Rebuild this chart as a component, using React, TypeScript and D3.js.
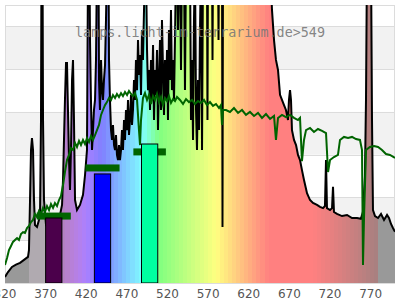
import React from "react";
import * as d3 from "d3";

const W = 400, H = 300;
const M = { left: 5, right: 5, top: 5, bottom: 17 };

// x axis ticks (nm) and horizontal grid values
const xTicks = [320, 370, 420, 470, 520, 570, 620, 670, 720, 770];
const yGrid = [20, 40, 60, 80, 100, 120];

// measured lamp spectrum [wavelength nm, relative value] (values > 130 are off-scale)
const spectrum: [number, number][] = [[320,2.8],[323.7,5.1],[328.6,7.5],[333.5,8.6],[338.5,9.4],[343.4,10.8],[348.3,12.2],[349.5,15.4],[350.8,38.8],[352,62.2],[353.2,67.8],[354.5,62.2],[355.7,38.8],[356.9,27.1],[359.4,26.2],[361.8,29.5],[363.1,31.8],[364.3,76.2],[364.9,150],[366.2,150],[366.8,76.2],[368,38.8],[370.5,27.1],[375.4,24.8],[381.5,27.1],[387.7,31.8],[390.2,36.5],[391.4,48.2],[392.6,66.9],[393.8,85.6],[395.1,102.9],[396.3,102.9],[397.5,80.9],[398.8,57.5],[400,43.5],[401.2,62.2],[402.5,94.9],[403.7,104.3],[404.9,76.2],[406.2,38.8],[408.6,34.1],[412.3,36.5],[416,41.2],[418.5,50.5],[420.9,62.2],[422.2,150],[424,150],[424.6,113.6],[425.8,85.6],[427.1,62.2],[428.3,71.5],[429.5,80.9],[430.8,85.6],[432,104.3],[433.2,150],[435.1,150],[435.7,94.9],[436.9,80.9],[438.2,104.3],[439.4,90.2],[440.6,85.6],[441.8,94.9],[443.1,101.9],[444.3,123],[445.5,150],[447.4,150],[448,104.3],[449.2,85.6],[450.5,71.5],[451.7,66.9],[452.9,73.9],[454.2,64.5],[455.4,62.2],[456.6,69.2],[457.8,59.9],[459.1,57.5],[460.3,64.5],[461.5,57.5],[462.8,62.2],[464,71.5],[465.2,62.2],[466.5,76.2],[467.7,66.9],[468.9,80.9],[470.2,71.5],[471.4,85.6],[472.6,69.2],[473.8,76.2],[475.1,87.9],[476.3,73.9],[477.5,80.9],[478.8,94.9],[480,85.6],[481.2,104.3],[482.5,90.2],[483.7,113.6],[484.9,97.3],[486.2,106.6],[487.4,87.9],[488.6,118.3],[489.8,104.3],[491.1,127.7],[492.3,150],[493.5,150],[494.8,109],[496,90.2],[497.2,99.6],[498.5,80.9],[499.7,104.3],[500.9,85.6],[502.2,111.3],[503.4,76.2],[504.6,99.6],[505.8,87.9],[507.1,109],[508.3,71.5],[509.5,94.9],[510.8,113.6],[512,80.9],[513.2,123],[514.5,99.6],[515.7,78.6],[516.9,104.3],[518.2,85.6],[519.4,109],[520.6,76.2],[521.8,118.3],[523.1,94.9],[524.3,127.7],[525.5,90.2],[526.8,104.3],[528,85.6],[529.2,113.6],[530.5,150],[531.7,150],[532.9,118.3],[534.2,150],[535.4,150],[536.6,99.6],[537.8,150],[540.3,150],[541.5,90.2],[542.8,150],[547.7,150],[548.9,76.2],[550.2,104.3],[551.4,66.9],[552.6,123],[553.8,150],[555.1,80.9],[556.3,62.2],[557.5,94.9],[558.8,71.5],[560,118.3],[561.2,150],[562.5,62.2],[563.7,150],[568.6,150],[569.2,76.2],[569.8,150],[574.8,150],[575.4,104.3],[576,150],[582.2,150],[582.8,113.6],[583.4,150],[587.1,150],[587.7,26.2],[588.3,150],[646.2,150],[648.6,127.7],[651.1,113.6],[653.5,104.3],[656,99.6],[658.5,88],[660.9,85.6],[663.4,83.2],[665.8,80.9],[668.3,76.2],[669.5,85.6],[670.8,90.2],[672,85.6],[673.2,71.5],[675.7,66.9],[678.2,64.5],[680.6,59.9],[683.1,57.5],[685.5,52.8],[688,48.2],[691.7,42],[695.4,38.8],[699.1,37.4],[704,36.5],[707.7,35.6],[711.4,35],[713.8,36],[715.1,57.5],[716.3,35],[720,34.1],[722.5,35],[723.7,45],[724.9,33.2],[728.6,32.3],[734.8,31.3],[741,31.8],[747.1,30.4],[753.3,30.4],[758,30],[760.5,33.2],[763,50],[764.3,85.6],[765.5,150],[770.5,150],[771.7,76.2],[772.9,34.1],[775.4,31.3],[779.1,30.4],[782.8,32.3],[786.5,29.5],[790.2,31.8],[792.6,30.4],[795.1,27.6],[797.5,25.7],[800,24]];

// reference (green) spectrum [wavelength nm, relative value]
const reference: [number, number][] = [[320,8.4],[322.5,11.7],[324.9,15.4],[327.4,17.3],[329.8,19.2],[332.3,20.1],[334.8,21],[337.2,20.1],[339.7,22.9],[342.2,23.8],[344.6,23.4],[347.1,25.7],[349.5,26.7],[352,28.5],[354.5,29.5],[356.9,32.3],[359.4,30.9],[361.8,33.7],[364.3,32.3],[366.8,35.1],[369.2,33.2],[371.7,36],[374.2,34.1],[376.6,36.9],[379.1,35.1],[381.5,37.4],[384,36],[386.5,38.8],[388.9,40.7],[391.4,45.8],[393.8,51.9],[396.3,57.5],[398.8,59.9],[401.2,63.1],[403.7,62.2],[406.2,65.5],[408.6,63.6],[411.1,66.4],[413.5,64.5],[416,66.9],[418.5,65],[420.9,67.8],[423.4,65.9],[425.8,68.7],[428.3,66.9],[430.8,69.2],[433.2,71.5],[435.7,73.9],[438.2,78.6],[440.6,80.9],[443.1,83.2],[445.5,84.6],[448,86.5],[450.5,85.6],[452.9,87.9],[455.4,86.5],[457.8,88.4],[460.3,87],[462.8,88.8],[465.2,87.4],[467.7,89.3],[470.2,87.9],[472.6,89.8],[475.1,88.4],[477.5,87.4],[480,88.8],[482.5,85.6],[484.9,71.5],[486.2,64.5],[487.4,76.2],[489.8,86.5],[492.3,88.8],[494.8,85.6],[497.2,87.9],[499.7,83.7],[502.2,87.4],[504.6,85.6],[507.1,88.4],[509.5,84.6],[512,87],[514.5,83.2],[516.9,86.5],[519.4,85.1],[521.8,87.4],[524.3,84.2],[526.8,86],[529.2,85.1],[531.7,87],[535.4,85.6],[539.1,83.7],[542.8,86],[546.5,84.6],[550.2,85.6],[553.8,83.7],[557.5,85.1],[561.2,84.2],[564.9,85.6],[568.6,83.2],[572.3,84.6],[576,82.8],[579.7,83.7],[583.4,81.8],[585.8,83.2],[587.1,73.9],[588.3,80.9],[592,80.9],[596.9,80],[601.8,81.8],[606.8,79.5],[611.7,80.9],[616.6,78.6],[621.5,80],[626.5,78.1],[631.4,79.5],[636.3,77.2],[641.2,79],[646.2,76.7],[651.1,78.1],[653.5,66.9],[656,77.2],[660.9,78.6],[665.8,77.6],[670.8,78.6],[675.7,77.2],[680.6,76.2],[683.1,77.2],[685.5,57],[688,66.9],[690.5,71.5],[695.4,72.5],[700.3,70.6],[705.2,72],[710.2,71.1],[715.1,70.1],[717.6,51.9],[720,57.5],[724.9,58.9],[729.8,59.9],[732.3,66.9],[737.2,68.3],[742.2,67.8],[747.1,68.3],[752,67.3],[756.9,66.9],[759.4,62.2],[760.6,8.4],[761.8,29.5],[764.3,62.2],[769.2,63.6],[774.2,64.1],[779.1,63.6],[784,62.2],[788.9,60.3],[793.8,59.9],[800,58.5]];

// photoreceptor bars: center wavelength / value, marker values
const barNm = [380, 440, 498];
const barVal = [30.4, 51, 65];
const barColor = ["#4b004b", "#0000ff", "#00ffa0"];
const markVal = [31.3, 53.8, 61.3];
const markHalfWidth = [21, 21, 20];

function waveColor(w: number): string {
  if (w < 350 || w >= 780) return "#999999";
  if (w < 380) return "#b0aab0";
  let r = 0, g = 0, b = 0;
  if (w < 440) { r = -(w - 440) / 60; b = 1; }
  else if (w < 490) { g = (w - 440) / 50; b = 1; }
  else if (w < 510) { g = 1; b = -(w - 510) / 20; }
  else if (w < 580) { r = (w - 510) / 70; g = 1; }
  else if (w < 645) { r = 1; g = -(w - 645) / 65; }
  else { r = 1; }
  let f = 1;
  if (w < 420) f = 0.3 + 0.7 * (w - 380) / 40;
  else if (w > 700) f = 0.3 + 0.7 * (780 - w) / 80;
  const c = (v: number) => Math.round(128 + 127 * v * f);
  return d3.rgb(c(r), c(g), c(b)).formatHex();
}

export default function App() {
  const x = d3.scaleLinear().domain([320, 800]).range([M.left, W - M.right]);
  const y = d3.scaleLinear().domain([0, 130]).range([H - M.bottom, M.top]);
  const line = d3.line<[number, number]>().x(d => x(d[0])).y(d => y(d[1]));
  const specPath = line(spectrum) || "";
  const underPath = specPath + `L${x(800)},${y(0)}L${x(320)},${y(0)}Z`;
  const bands = d3.range(320, 800, 5);
  const plotTop = y(130), plotBot = y(0);
  return (
    <svg width={W} height={H} style={{ position: "absolute", left: 0, top: 0, background: "#fff" }}
      fontFamily="'DejaVu Sans', sans-serif">
      <defs>
        <clipPath id="plot"><rect x={x(320)} y={plotTop} width={x(800) - x(320)} height={plotBot - plotTop} /></clipPath>
        <clipPath id="under"><path d={underPath} /></clipPath>
      </defs>
      {yGrid.filter((_, i) => i % 2 === 0).map(v => (
        <rect key={"s" + v} x={x(320)} width={x(800) - x(320)} y={y(v + 20)} height={y(v) - y(v + 20)} fill="#f2f2f2" />
      ))}
      {yGrid.map(v => (
        <line key={"g" + v} x1={x(320)} x2={x(800)} y1={Math.round(y(v)) + 0.5} y2={Math.round(y(v)) + 0.5} stroke="#dcdcdc" strokeWidth={1} />
      ))}
      <rect x={x(320) + 0.5} y={plotTop + 0.5} width={x(800) - x(320) - 1} height={plotBot - plotTop} fill="none" stroke="#dcdcdc" strokeWidth={1} />
      <g clipPath="url(#plot)">
        <g clipPath="url(#under)">
          {bands.map(b => (
            <rect key={"b" + b} x={Math.floor(x(b))} width={Math.ceil(x(b + 5)) - Math.floor(x(b)) + 1} y={plotTop} height={plotBot - plotTop}
              fill={waveColor(b + 2.5)} shapeRendering="crispEdges" />
          ))}
        </g>
        <path d={specPath} fill="none" stroke="#000" strokeWidth={2} />
        <path d={line(reference) || ""} fill="none" stroke="#006400" strokeWidth={2} />
        {barNm.map((n, i) => (
          <rect key={"m" + i} x={x(n - markHalfWidth[i])} width={x(n + markHalfWidth[i]) - x(n - markHalfWidth[i])}
            y={y(markVal[i]) - 3.5} height={7} fill="#006400" />
        ))}
        {barNm.map((n, i) => (
          <rect key={"r" + i} x={x(n - 10)} width={x(n + 10) - x(n - 10)} y={y(barVal[i])} height={plotBot - y(barVal[i])}
            fill={barColor[i]} stroke="#000" strokeWidth={1} />
        ))}
      </g>
      <text x={W / 2} y={37} textAnchor="middle" fontFamily="'DejaVu Sans Mono', monospace" fontSize={13.4} fill="#777" fillOpacity={0.9}>
        lamps.licht-im-terrarium.de&gt;549
      </text>
      {xTicks.map(t => (
        <text key={"t" + t} x={x(t)} y={297.5} textAnchor="middle" fontSize={12} fill="#555">{t}</text>
      ))}
    </svg>
  );
}
